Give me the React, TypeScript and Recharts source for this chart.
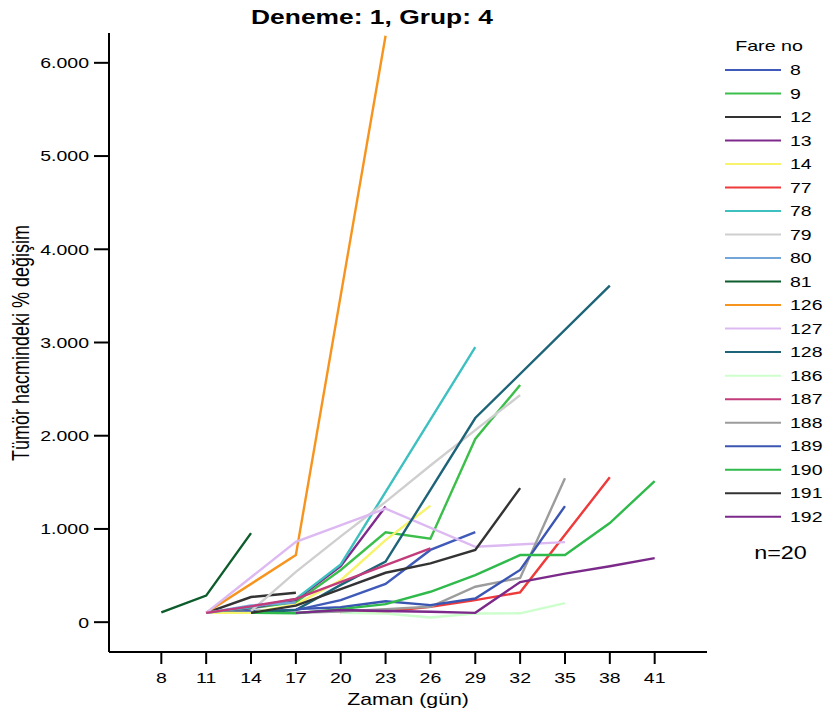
import React from 'react';
import { LineChart, Line, XAxis, YAxis } from 'recharts';

const days = [8, 11, 14, 17, 20, 23, 26, 29, 32, 35, 38, 41];
const yTicks = [0, 1000, 2000, 3000, 4000, 5000, 6000];

const mouseIds = ['8', '9', '12', '13', '14', '77', '78', '79', '80', '81', '126', '127', '128', '186', '187', '188', '189', '190', '191', '192'];
const mouseColors = ['#3f5ab8', '#3cbf4a', '#333333', '#7e2a8c', '#f7f36b', '#ee3a3a', '#3fc0c0', '#cfcfcf', '#72a6d8', '#0d5c2c', '#f7941e', '#ddb9f2', '#1e6478', '#ccffcc', '#c23b7b', '#9c9c9c', '#3b56b2', '#2fba4b', '#333333', '#7b2a8a'];

const s8 = [null, 100, 120, 130, 236, 410, 775, 965, null, null, null, null];
const s9 = [null, 100, 150, 215, 560, 965, 895, 1965, 2545, null, null, null];
const s12 = [null, 100, 270, 315, null, null, null, null, null, null, null, null];
const s13 = [null, 100, 150, 240, 600, 1240, null, null, null, null, null, null];
const s14 = [null, 100, 100, 190, 450, 880, 1250, null, null, null, null, null];
const s77 = [null, null, null, null, 100, 115, 165, 236, 320, null, 1555, null];
const s78 = [null, 100, 160, 250, 620, null, null, 2950, null, null, null, null];
const s79 = [null, null, 120, 540, 920, 1290, 1680, 2060, 2435, null, null, null];
const s80 = [null, 100, 180, 210, null, null, null, null, null, null, null, null];
const s81 = [105, 285, 955, null, null, null, null, null, null, null, null, null];
const s126 = [null, 100, null, 720, null, 6290, null, null, null, null, null, null];
const s127 = [null, 100, null, 862, null, 1218, null, 809, null, 859, null, null];
const s128 = [null, null, 100, 130, 400, 650, null, 2190, null, null, 3610, null];
const s186 = [null, null, null, null, 100, 93, 50, 93, 95, 204, null, null];
const s187 = [null, 100, 170, 250, null, null, 792, null, null, null, null, null];
const s188 = [null, null, null, 100, 115, 140, 165, 380, 475, 1545, null, null];
const s189 = [null, null, null, 140, 160, 225, 183, 254, 560, 1245, null, null];
const s190 = [null, null, 100, 95, 140, 193, 326, 505, 720, 720, 1063, 1514];
const s191 = [null, null, 100, 177, 355, 530, 630, 775, 1438, null, null, null];
const s192 = [null, null, null, 100, 130, 120, 111, 100, 430, 520, 600, 687];

const seriesValues = [s8, s9, s12, s13, s14, s77, s78, s79, s80, s81, s126, s127, s128, s186, s187, s188, s189, s190, s191, s192];

const data = days.map((d, i) => {
  const row: any = { day: d };
  mouseIds.forEach((id, k) => {
    row['m' + id] = seriesValues[k][i];
  });
  return row;
});

const FONT = '"Liberation Sans", Arial, Helvetica, sans-serif';
const SX = 1.3;

const fmtY = (v: number) => (v === 0 ? '0' : `${Math.round(v / 1000)}.000`);

const XTick = (p: any) => (
  <g transform={`translate(${p.x},${p.y})`}>
    <text x={0} y={0} dy="0.71em" textAnchor="middle" fontSize={15} fontFamily={FONT} fill="#000" transform={`scale(${SX},1)`}>
      {p.payload.value}
    </text>
  </g>
);

const YTick = (p: any) => (
  <g transform={`translate(${p.x},${p.y})`}>
    <text x={0} y={0} dy="0.355em" textAnchor="end" fontSize={15} fontFamily={FONT} fill="#000" transform={`scale(${SX},1)`}>
      {fmtY(p.payload.value)}
    </text>
  </g>
);

const legendTop = 70;
const legendStep = 23.51;

export default function App() {
  return (
    <div style={{ position: 'absolute', left: 0, top: 0, width: 828, height: 718, background: '#fff' }}>
      <LineChart width={828} height={718} data={data} margin={{ top: 33, right: 121, bottom: 0, left: 0 }}>
        <XAxis
          dataKey="day"
          type="number"
          domain={[4.5, 44.5]}
          ticks={days}
          interval={0}
          height={66}
          tickSize={12}
          tickMargin={8}
          tick={<XTick />}
          axisLine={{ stroke: '#000', strokeWidth: 2 }}
          tickLine={{ stroke: '#000', strokeWidth: 2 }}
        />
        <XAxis xAxisId="top" dataKey="day" type="number" domain={[4.5, 44.5]} orientation="top" height={0} tick={false} tickLine={false} axisLine={{ stroke: '#000', strokeWidth: 2 }} />
        <YAxis
          type="number"
          domain={[-320, 6320]}
          ticks={yTicks}
          interval={0}
          width={109}
          tickSize={15}
          tickMargin={5}
          tick={<YTick />}
          axisLine={{ stroke: '#000', strokeWidth: 2 }}
          tickLine={{ stroke: '#000', strokeWidth: 2 }}
        />
        <YAxis yAxisId="right" type="number" domain={[-320, 6320]} orientation="right" width={0} tick={false} tickLine={false} axisLine={{ stroke: '#000', strokeWidth: 2 }} />
        {mouseIds.map((id, k) => (
          <Line
            key={id}
            type="linear"
            dataKey={'m' + id}
            name={id}
            stroke={mouseColors[k]}
            strokeWidth={2.4}
            dot={false}
            activeDot={false}
            connectNulls
            isAnimationActive={false}
          />
        ))}
      </LineChart>
      <svg width={828} height={718} style={{ position: 'absolute', left: 0, top: 0, pointerEvents: 'none' }} fontFamily={FONT}>
        <text transform={`translate(372,24) scale(1.32,1)`} textAnchor="middle" fontSize={20} fontWeight="bold" fill="#000">
          Deneme: 1, Grup: 4
        </text>
        <text transform={`translate(29,343) rotate(-90) scale(1,1.3)`} textAnchor="middle" fontSize={18} fill="#000">
          Tümör hacmindeki % değişim
        </text>
        <text transform={`translate(408,705) scale(1.33,1)`} textAnchor="middle" fontSize={16} fill="#000">
          Zaman (gün)
        </text>
        <text transform={`translate(769,50.7) scale(1.31,1)`} textAnchor="middle" fontSize={15} fill="#000">
          Fare no
        </text>
        {mouseIds.map((id, k) => {
          const y = legendTop + k * legendStep;
          return (
            <g key={id}>
              <line x1={725} x2={781} y1={y} y2={y} stroke={mouseColors[k]} strokeWidth={2} />
              <text transform={`translate(790,${y + 5.3}) scale(${SX},1)`} fontSize={15} fill="#000">
                {id}
              </text>
            </g>
          );
        })}
        <text transform={`translate(780.5,559.3) scale(1.3,1)`} textAnchor="middle" fontSize={18} fill="#000">
          n=20
        </text>
      </svg>
    </div>
  );
}
